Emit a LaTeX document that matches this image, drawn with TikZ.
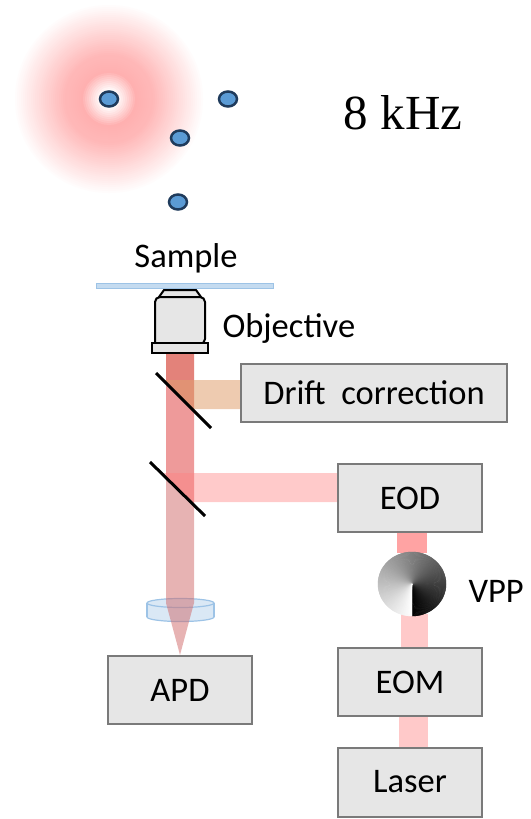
\documentclass[tikz,border=0pt]{standalone}
\usepackage{fontspec}
\newfontfamily\calib{Carlito}
\newfontfamily\serifnum{Liberation Serif}
\usetikzlibrary{positioning}

\definecolor{boxgray}{HTML}{E6E6E6}
\definecolor{boxline}{HTML}{7A7A7A}
\definecolor{dotblue}{HTML}{5B9BD5}
\definecolor{dotline}{HTML}{1F3B5C}
\definecolor{glowpink}{HTML}{FFB0B0}
\definecolor{glassblue}{HTML}{DAE8F5}
\definecolor{glassline}{HTML}{9DC3E6}
\definecolor{beamtop}{HTML}{E3827A}
\definecolor{beammid}{HTML}{EE9A9A}
\definecolor{beamlow}{HTML}{D06868}
\definecolor{beamred}{HTML}{FF8080}
\definecolor{beamorange}{HTML}{E0A070}
\definecolor{beamvpp}{HTML}{FFA3A3}
\definecolor{beamlaser}{HTML}{FFC9C9}

\newcommand\boxfont{\calib\fontsize{34.5}{41}\selectfont}

\pgfdeclarelayer{background}
\pgfsetlayers{background,main}

\tikzset{
  device/.style={draw=boxline, fill=boxgray, line width=2pt, minimum width=144pt,
    minimum height=68pt, inner sep=0pt, font=\boxfont},
  emitter/.style={draw=dotline, fill=dotblue, line width=2.5pt},
  mirror/.style={line width=3pt, black},
  optic/.style={draw=black, fill=boxgray, line width=2pt}}

\begin{document}
\begin{tikzpicture}[x=1pt, y=-1pt]
\useasboundingbox (0,0) rectangle (530,819);

% doughnut excitation spot, built from rings outside in
\coordinate (spot) at (109,99);
\foreach \r in {96,94,...,2}{
  \pgfmathsetmacro\f{\r>45 ? 90*(96-\r)/51 : (\r>28 ? 100-10*(\r-28)/17 : max(0,(\r-9)/19*100))}
  \fill[glowpink!\f!white] (spot) circle (\r pt);
}
% emitters
\foreach \p in {(spot),(228,99),(180,138),(178,202)}
  \draw[emitter] \p ellipse (9pt and 7.5pt);
\node[font=\serifnum\fontsize{49}{56}\selectfont] (freq) at (403,113) {8 kHz};

% sample slide and objective
\draw[draw=glassline, fill=glassline!60!white] (96,283) rectangle (273,288);
\node[font=\boxfont] (sample) at (186,258) {Sample};
\draw[optic] (164,290) -- (196,290) -- (201,297) -- (159,297) -- cycle;
\draw[optic] (155,344) [rounded corners=5pt]-- (155,297) -- (205,297) -- (205,344) [sharp corners]-- cycle;
\draw[optic] (152,343) rectangle (208,353);
\node[font=\boxfont, anchor=west] (objective) at (219,328) {Objective};

% devices
\node[device, minimum width=266pt, minimum height=58pt] (drift) at (374,393) {Drift~~correction};
\node[device] (eod) at (410,498) {EOD};
\node[device] (eom) at (410,682) {EOM};
\node[device, minimum height=69pt] (laser) at (410,782) {Laser};
\node[device] (apd) at (180,690) {APD};

% vortex phase plate
\node[circle, minimum size=66pt, inner sep=0pt] (vpp) at (412,584) {};
\begin{scope}[shift={(vpp.center)}, y=1pt]
  \foreach \a in {0,2,...,358}{
    \pgfmathsetmacro\s{\a-90}
    \pgfmathsetmacro\g{\a/3.6}
    \filldraw[white!\g!black, line width=.4pt] (0,0) -- (\s:34pt and 32pt)
      arc[start angle=\s, delta angle=2, x radius=34pt, y radius=32pt] -- cycle;
  }
\end{scope}
\node[font=\boxfont, anchor=west] (vpplabel) at ([xshift=53pt,yshift=-7pt]vpp.center) {VPP};

% beams
\begin{pgfonlayer}{background}
  % tube lens
  \draw[glassline, fill=glassblue, line width=1.2pt] (180.5,617) ellipse (33.5pt and 4.5pt);
  \fill[glassblue] (147,603) rectangle (214,617);
  \draw[glassline, line width=1.2pt] (147,603) -- (147,617) (214,603) -- (214,617);
  \draw[glassline, fill=glassblue, line width=1.2pt] (180.5,603) ellipse (33.5pt and 4.5pt);
  % detection path
  \fill[beamtop] (166,353) -- (194,353) -- (194,411) -- (166,383) -- cycle;
  \fill[beammid] (166,383) -- (194,411) -- (194,506) -- (166,478) -- cycle;
  \fill[beamlow, opacity=.5] (166,478) -- (194,506) -- (194,603) -- (apd.north) -- (166,603) -- cycle;
  % side arms
  \fill[beamorange, opacity=.55] (163,380) -- ([yshift=13pt]drift.west) -- ([yshift=-16pt]drift.west) -- (192,409) -- cycle;
  \fill[beamred, opacity=.42] (161,473) -- ([yshift=25pt]eod.west) -- ([yshift=-4pt]eod.west) -- (190,502) -- cycle;
  % laser line
  \fill[beamvpp] ([xshift=-13pt]eod.south) rectangle ([xshift=15pt,yshift=-2pt]vpp.north);
  \fill[beamlaser] ([xshift=-11pt,yshift=3pt]vpp.south) rectangle ([xshift=18pt]eom.north);
  \fill[beamlaser] ([xshift=-11pt]eom.south) rectangle ([xshift=18pt]laser.north);
\end{pgfonlayer}

% dichroic mirrors
\draw[mirror] (156,373) -- (211,428);
\draw[mirror] (150,462) -- (205,516);
\end{tikzpicture}
\end{document}
